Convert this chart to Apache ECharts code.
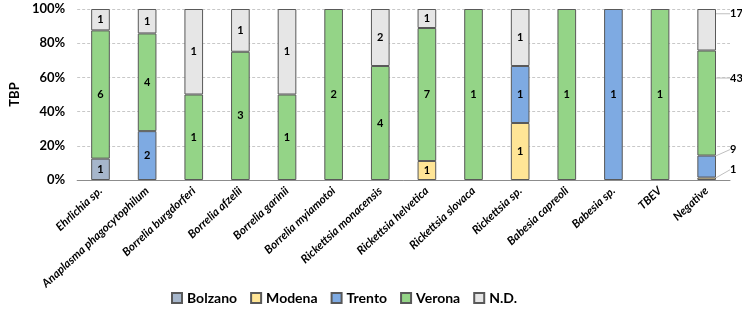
<!DOCTYPE html>
<html>
<head>
<meta charset="utf-8">
<script src="https://cdn.jsdelivr.net/npm/echarts@6/dist/echarts.min.js"></script>
<style>
  html, body { margin: 0; padding: 0; background: #fff; }
  #main { width: 742px; height: 317px; }
</style>
</head>
<body>
<div id="main"></div>
<script>
// categorie (patogeni)
const categories = ['Ehrlichia sp.', 'Anaplasma phagocytophilum', 'Borrelia burgdorferi', 'Borrelia afzelii',
  'Borrelia garinii', 'Borrelia myiamotoi', 'Rickettsia monacensis', 'Rickettsia helvetica',
  'Rickettsia slovaca', 'Rickettsia sp.', 'Babesia capreoli', 'Babesia sp.', 'TBEV', 'Negative'];

// conteggi per provincia
const bolzano = [1, 0, 0, 0, 0, 0, 0, 0, 0, 0, 0, 0, 0, 0];
const modena  = [0, 0, 0, 0, 0, 0, 0, 1, 0, 1, 0, 0, 0, 1];
const trento  = [0, 2, 0, 0, 0, 0, 0, 0, 0, 1, 0, 1, 0, 9];
const verona  = [6, 4, 1, 3, 1, 2, 4, 7, 1, 0, 1, 0, 1, 43];
const nd      = [1, 1, 1, 1, 1, 0, 2, 1, 0, 1, 0, 0, 0, 17];

const yTicks = [0, 20, 40, 60, 80, 100];

const seriesDefs = [
  { name: 'Bolzano', counts: bolzano, color: '#a6b6cb' },
  { name: 'Modena', counts: modena, color: '#ffe596' },
  { name: 'Trento', counts: trento, color: '#7eaae2' },
  { name: 'Verona', counts: verona, color: '#94d487' },
  { name: 'N.D.', counts: nd, color: '#e6e6e6' }
];

const totals = categories.map((c, i) => seriesDefs.reduce((s, d) => s + d.counts[i], 0));

// spostamento delle etichette esterne della barra "Negative"
const negShift = { 'Bolzano': 0, 'Modena': -9, 'Trento': -17, 'Verona': -25, 'N.D.': -16 };
const lastIdx = categories.length - 1;

const myChart = echarts.init(document.getElementById('main'));

const series = seriesDefs.map(d => ({
  name: d.name,
  type: 'bar',
  stack: 'tot',
  barWidth: '40%',
  data: d.counts.map((c, i) => c ? c / totals[i] * 100 : null),
  itemStyle: { color: d.color, borderColor: '#595959', borderWidth: 1 },
  label: {
    show: true,
    position: 'inside',
    color: '#000',
    fontSize: 11,
    fontWeight: 'bold',
    fontFamily: 'Lato',
    formatter: p => d.counts[p.dataIndex]
  },
  labelLine: {
    show: true,
    lineStyle: { color: '#bfbfbf', width: 1 }
  },
  labelLayout: function (p) {
    if (p.dataIndex !== lastIdx) return {};
    return {
      x: p.rect.x + p.rect.width + 14,
      y: p.rect.y + p.rect.height / 2 + negShift[d.name],
      align: 'left',
      verticalAlign: 'middle'
    };
  }
}));

myChart.setOption({
  animation: false,
  textStyle: { fontFamily: 'Lato' },
  grid: { left: 62, right: 12, top: 9, bottom: 137, containLabel: false },
  legend: {
    left: 166,
    top: 286,
    itemWidth: 10,
    itemHeight: 10,
    itemGap: 13,
    icon: 'rect',
    textStyle: { fontSize: 14, fontWeight: 'bold', color: '#000', fontFamily: 'Lato' }
  },
  xAxis: {
    type: 'category',
    data: categories,
    axisLine: { lineStyle: { color: '#8c8c8c', width: 1 } },
    axisTick: { show: false },
    axisLabel: {
      rotate: 43,
      interval: 0,
      margin: 9,
      fontSize: 11.5,
      fontStyle: 'italic',
      fontWeight: 'bold',
      color: '#000',
      fontFamily: 'Lato'
    }
  },
  yAxis: {
    type: 'value',
    min: yTicks[0],
    max: yTicks[yTicks.length - 1],
    interval: yTicks[1] - yTicks[0],
    name: 'TBP',
    nameLocation: 'middle',
    nameRotate: 90,
    nameGap: 50,
    nameTextStyle: { fontSize: 13, fontWeight: 'bold', color: '#000', fontFamily: 'Lato' },
    axisLine: { show: false },
    axisTick: { show: false },
    axisLabel: {
      formatter: '{value}%',
      margin: 12,
      fontSize: 13,
      fontWeight: 'bold',
      color: '#000',
      fontFamily: 'Lato'
    },
    splitLine: { lineStyle: { color: '#c8c8c8', type: [3, 2] } }
  },
  series: series
});
</script>
</body>
</html>
